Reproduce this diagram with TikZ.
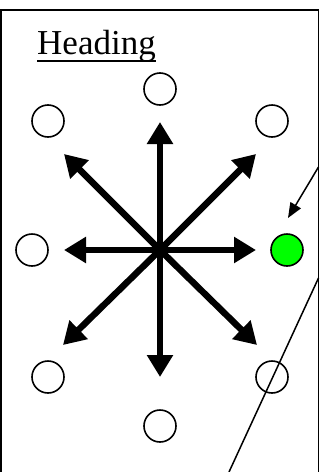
\documentclass[tikz,border=0pt]{standalone}
\usepackage{fontspec}
\setmainfont{Liberation Serif}
\usetikzlibrary{arrows.meta,calc}
\begin{document}
\begin{tikzpicture}[x=1pt,y=-1pt,
  dot/.style={circle,draw,line width=1.6pt,minimum size=32pt,inner sep=0pt},
  bigarrow/.style={line width=6.5pt,-{Triangle[length=22pt,width=25pt]}},
  thinline/.style={line width=1.5pt},
  frame/.style={line width=1.8pt}]
\useasboundingbox (0,0) rectangle (320,472);
% frame
\coordinate (fbl) at (1,472);
\coordinate (ftl) at (1,10);
\coordinate (ftr) at (318.5,10);
\coordinate (fbr) at (318.5,472);
\draw[frame] (fbl) -- (ftl) -- (ftr) -- (fbr);
% heading
\node[anchor=base west,inner sep=0pt,font=\fontsize{35}{40}\selectfont] (head) at (37,54) {Heading};
\draw[line width=1.8pt] ($(head.base west)+(0,7)$) -- ($(head.base east)+(0,7)$);
% circles
\node[dot] (n) at (160,89) {};
\node[dot] (nw) at (48,121) {};
\node[dot] (ne) at (272,121) {};
\node[dot] (w) at (32,250) {};
\node[dot,fill={rgb,255:red,0;green,255;blue,0}] (e) at (287,250) {};
\node[dot] (sw) at (48,377) {};
\node[dot] (se) at (272,377) {};
\node[dot] (s) at (160,426) {};
% arrows
\coordinate (c) at (160,250);
\coordinate (tn) at (160,122);
\coordinate (ts) at (160,377);
\coordinate (te) at (256,250);
\coordinate (tw) at (64,250);
\coordinate (tne) at (256,154);
\coordinate (tnw) at (64,154);
\coordinate (tse) at (257,345);
\coordinate (tsw) at (63,345);
\foreach \t in {tn,ts,te,tw,tne,tnw,tse,tsw} \draw[bigarrow] (c) -- (\t);
% thin lines
\coordinate (a1) at (318.5,167);
\draw[thinline,-{Triangle[length=15pt,width=12pt]}] (a1) -- (288,218);
\coordinate (l1) at (318.5,278);
\coordinate (l2) at (229,472);
\draw[thinline] (l1) -- (l2);
\end{tikzpicture}
\end{document}
